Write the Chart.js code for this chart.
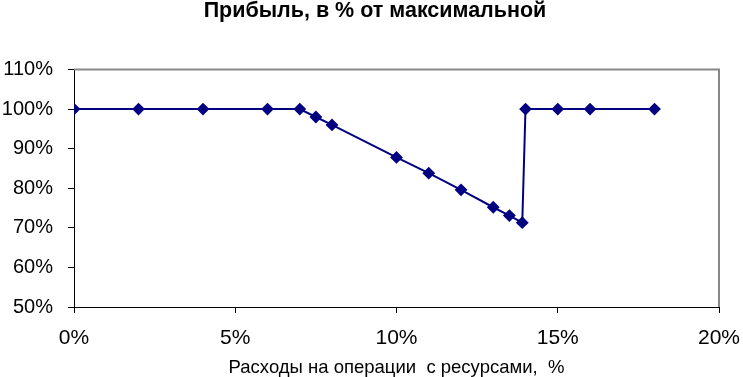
<!DOCTYPE html>
<html>
<head>
<meta charset="utf-8">
<script src="https://cdn.jsdelivr.net/npm/chart.js@4.4.0/dist/chart.umd.min.js"></script>
<style>
    html, body { margin: 0; padding: 0; background: #fff; }
    #wrap { width: 743px; height: 377px; position: relative; }
</style>
</head>
<body>
<div id="wrap"><canvas id="profitChart"></canvas></div>
<script>
// Data
const costPercent = [0, 2, 4, 6, 7, 7.5, 8, 10, 11, 12, 13, 13.5, 13.9, 14, 15, 16, 18];
const profitPercent = [100, 100, 100, 100, 100, 98, 96, 87.8, 83.8, 79.6, 75.2, 73.1, 71.3, 100, 100, 100, 100];
const xTicks = [0, 5, 10, 15, 20];
const yTicks = [50, 60, 70, 80, 90, 100, 110];

const chartTitle = 'Прибыль, в % от максимальной';
const xAxisTitle = 'Расходы на операции  с ресурсами,  %';

const FONT = '"Liberation Sans", Arial, sans-serif';

// gray frame on top and right of the plot area, title nudged right
const plotFrame = {
    id: 'plotFrame',
    afterLayout(chart) {
        if (chart.titleBlock) chart.titleBlock.left += 7;
    },
    beforeDatasetsDraw(chart) {
        const a = chart.chartArea;
        const ctx = chart.ctx;
        ctx.save();
        ctx.strokeStyle = '#888888';
        ctx.lineWidth = 2;
        ctx.beginPath();
        ctx.moveTo(a.left, a.top);
        ctx.lineTo(a.right, a.top);
        ctx.lineTo(a.right, a.bottom);
        ctx.stroke();
        ctx.restore();
    }
};

const points = costPercent.map(function(x, i) {
    return { x: x, y: profitPercent[i] };
});

new Chart(document.getElementById('profitChart').getContext('2d'), {
    type: 'line',
    data: {
        datasets: [{
            data: points,
            borderColor: '#000080',
            backgroundColor: '#000080',
            borderWidth: 2,
            pointStyle: 'rectRot',
            pointRadius: 5,
            pointHoverRadius: 5,
            tension: 0,
            fill: false
        }]
    },
    options: {
        responsive: true,
        maintainAspectRatio: false,
        animation: false,
        layout: { padding: { top: 0, right: 0, left: 0, bottom: 0 } },
        plugins: {
            legend: { display: false },
            tooltip: { enabled: false },
            title: {
                display: true,
                text: chartTitle,
                color: '#000',
                font: { family: FONT, size: 21.5, weight: 'bold', lineHeight: 1.0 },
                padding: { top: 0, bottom: 48 }
            }
        },
        scales: {
            x: {
                type: 'linear',
                min: 0,
                max: 20,
                afterBuildTicks: function(scale) {
                    scale.ticks = xTicks.map(v => ({ value: v }));
                },
                afterFit: function(scale) {
                    scale.height = 70;
                    scale.paddingLeft = 0;
                    scale.paddingRight = 24;
                },
                grid: { drawOnChartArea: false, drawTicks: true, tickLength: 6, color: '#000' },
                border: { color: '#000', width: 1 },
                ticks: {
                    color: '#000',
                    font: { family: FONT, size: 21 },
                    padding: 13,
                    maxRotation: 0,
                    callback: v => v + '%'
                },
                title: {
                    display: true,
                    text: xAxisTitle,
                    color: '#000',
                    font: { family: FONT, size: 18.5, lineHeight: 1.0 },
                    padding: { top: 0, bottom: 0 }
                }
            },
            y: {
                min: 50,
                max: 110,
                afterBuildTicks: function(scale) {
                    scale.ticks = yTicks.map(v => ({ value: v }));
                },
                afterFit: function(scale) { scale.width = 74; },
                grid: { drawOnChartArea: false, drawTicks: true, tickLength: 6, color: '#000' },
                border: { color: '#000', width: 1 },
                ticks: {
                    color: '#000',
                    font: { family: FONT, size: 20 },
                    padding: 15,
                    callback: v => v + '%'
                }
            }
        }
    },
    plugins: [plotFrame]
});
</script>
</body>
</html>
